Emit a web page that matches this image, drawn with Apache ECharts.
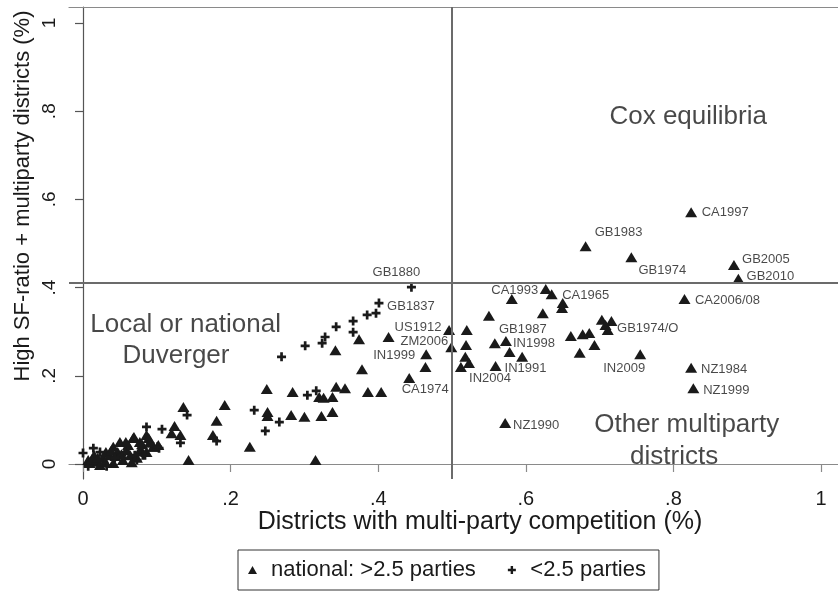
<!DOCTYPE html>
<html>
<head>
<meta charset="utf-8">
<script src="https://cdn.jsdelivr.net/npm/echarts@6/dist/echarts.min.js"></script>
<style>
html,body{margin:0;padding:0;background:#fff;}
#chart{width:838px;height:594px;}
</style>
</head>
<body>
<div id="chart"></div>
<script>
// ---------- data ----------
const seriesNames = ['national: >2.5 parties', '<2.5 parties'];

// national, >2.5 parties (triangles): [x, y]
const nationalPoints = [
  [0.824,0.571],[0.681,0.494],[0.743,0.469],[0.882,0.451],[0.888,0.420],[0.815,0.374],
  [0.703,0.327],[0.716,0.324],[0.708,0.315],[0.711,0.304],[0.677,0.294],[0.686,0.297],
  [0.661,0.290],[0.693,0.270],[0.673,0.252],[0.755,0.249],[0.824,0.218],[0.827,0.172],
  [0.572,0.093],
  [0.581,0.374],[0.627,0.397],[0.635,0.385],[0.650,0.365],[0.649,0.354],[0.550,0.336],
  [0.623,0.342],[0.496,0.304],[0.520,0.304],[0.499,0.265],[0.519,0.270],[0.518,0.243],
  [0.523,0.229],[0.512,0.220],[0.558,0.274],[0.573,0.279],[0.578,0.254],[0.595,0.243],
  [0.559,0.222],
  [0.465,0.249],[0.464,0.220],[0.442,0.195],[0.414,0.288],[0.374,0.283],[0.342,0.258],
  [0.378,0.215],[0.249,0.170],[0.284,0.163],[0.320,0.152],[0.326,0.150],[0.338,0.152],
  [0.343,0.175],[0.355,0.172],[0.386,0.163],[0.404,0.163],[0.250,0.118],[0.250,0.109],
  [0.282,0.111],[0.300,0.107],[0.323,0.109],[0.338,0.118],[0.226,0.039],[0.315,0.009],
  [0.136,0.129],[0.192,0.134],[0.181,0.098],[0.124,0.086],[0.120,0.070],[0.132,0.066],
  [0.176,0.066],[0.143,0.009],[0.086,0.066],[0.089,0.059],[0.069,0.061],[0.077,0.050],
  [0.096,0.039],
  [0.007,0.009],[0.019,0.005],[0.027,0.014],[0.036,0.020],[0.041,0.039],[0.050,0.050],
  [0.047,0.027],[0.059,0.032],[0.068,0.059],[0.095,0.039],[0.086,0.027],[0.073,0.014],
  [0.054,0.009],[0.041,0.002],[0.023,-0.002],[0.009,0.002],[0.031,0.027],[0.061,0.043],
  [0.078,0.034],[0.015,0.020],
  [0.012,0.011],[0.030,0.005],[0.044,0.018],[0.052,0.022],[0.064,0.020],[0.080,0.045],
  [0.058,0.050],[0.038,0.030],[0.066,0.004],[0.020,0.014],[0.102,0.043],[0.090,0.048]
];

// <2.5 parties (pluses): [x, y]
const lowPoints = [
  [0.445,0.401],[0.401,0.365],[0.397,0.342],[0.385,0.338],[0.366,0.324],[0.343,0.311],
  [0.366,0.299],[0.328,0.288],[0.324,0.274],[0.301,0.268],[0.269,0.243],[0.304,0.156],
  [0.316,0.166],[0.232,0.122],[0.266,0.095],[0.247,0.075],[0.141,0.111],[0.107,0.079],
  [0.086,0.084],[0.132,0.048],[0.181,0.052],[0.103,0.036],[0.081,0.020],[0.073,0.009],
  [0.000,0.025],[0.014,0.036],[0.070,0.020],[0.084,0.020],[0.032,-0.005],[0.101,0.039],
  [0.057,0.027],[0.043,0.014],[0.023,0.027],[0.007,-0.005]
];

// point labels: [x, y, text]
const pointLabels = [
  [0.824,0.571,'CA1997'],[0.681,0.494,'GB1983'],[0.743,0.469,'GB1974'],
  [0.882,0.451,'GB2005'],[0.888,0.420,'GB2010'],[0.815,0.374,'CA2006/08'],
  [0.711,0.304,'GB1974/O'],[0.755,0.249,'IN2009'],[0.824,0.218,'NZ1984'],
  [0.827,0.172,'NZ1999'],[0.572,0.093,'NZ1990'],[0.581,0.374,'CA1993'],
  [0.635,0.385,'CA1965'],[0.558,0.274,'GB1987'],[0.573,0.279,'IN1998'],
  [0.559,0.222,'IN1991'],[0.523,0.229,'IN2004'],[0.496,0.304,'US1912'],
  [0.499,0.265,'ZM2006'],[0.465,0.249,'IN1999'],[0.442,0.195,'CA1974'],
  [0.401,0.365,'GB1837'],[0.445,0.401,'GB1880']
];

// region annotations: [x, y, text]
const regionNotes = [
  [0.820,0.787,'Cox equilibria'],
  [0.139,0.315,'Local or national'],
  [0.126,0.246,'Duverger'],
  [0.818,0.089,'Other multiparty'],
  [0.801,0.016,'districts']
];

const refX = 0.5;
const refY = 0.41;

const xTickValues = [0, 0.2, 0.4, 0.6, 0.8, 1];
const xTickLabels = ['0', '.2', '.4', '.6', '.8', '1'];
const yTickValues = [0, 0.2, 0.4, 0.6, 0.8, 1];
const yTickLabels = ['0', '.2', '.4', '.6', '.8', '1'];

const xTitle = 'Districts with multi-party competition (%)';
const yTitle = 'High SF-ratio + multiparty districts (%)';

// ---------- styling ----------
const FONT = '"Liberation Sans", Arial, Helvetica, sans-serif';
const INK = '#1a1a1a';
const plusPath = 'path://M3.5,0h3v3.5h3.5v3h-3.5v3.5h-3v-3.5h-3.5v-3h3.5z';

const labelOffsets = {
  'CA1997':[34,0],'GB1983':[33,-14],'GB1974':[31,13],'GB2005':[32,-6],'GB2010':[32,-2],
  'CA2006/08':[43,1],'GB1974/O':[40,-2],'IN2009':[-16,14],'NZ1984':[33,2],'NZ1999':[33,2],
  'NZ1990':[31,2],'CA1993':[3,-9],'CA1965':[34,1],'GB1987':[28,-14],'IN1998':[28,2],
  'IN1991':[30,2],'IN2004':[21,15],'US1912':[-31,-3],'ZM2006':[-27,-6],'IN1999':[-32,1],
  'CA1974':[16,11],'GB1837':[32,3],'GB1880':[-15,-15]
};

function tickFmt(values, labels) {
  return function (v) {
    const i = values.findIndex(t => Math.abs(t - v) < 1e-9);
    return i >= 0 ? labels[i] : '';
  };
}

const chart = echarts.init(document.getElementById('chart'), null, {renderer: 'canvas'});

const X_MIN = -0.019, X_MAX = 1.0230;

const option = {
  animation: false,
  backgroundColor: '#fff',
  textStyle: {fontFamily: FONT},
  grid: {left: 69, right: -2, top: 7, bottom: 115, show: false},
  xAxis: [{
    type: 'value', min: X_MIN, max: X_MAX,
    axisLine: {show: true, lineStyle: {color: '#8a8a8a', width: 1.2}},
    axisTick: {show: true, length: 8, lineStyle: {color: '#8a8a8a', width: 1.2}, customValues: xTickValues},
    axisLabel: {show: true, margin: 10, fontSize: 20, color: INK, fontFamily: FONT,
      customValues: xTickValues, formatter: tickFmt(xTickValues, xTickLabels)},
    splitLine: {show: false}
  }, {
    type: 'value', position: 'top', min: X_MIN, max: X_MAX,
    axisLine: {show: true, lineStyle: {color: '#8a8a8a', width: 1.2}},
    axisTick: {show: false}, axisLabel: {show: false}, splitLine: {show: false}
  }],
  yAxis: {
    type: 'value', min: -0.034, max: 1.0363,
    axisLine: {show: true, lineStyle: {color: '#555', width: 1.2}},
    axisTick: {show: true, length: 8, lineStyle: {color: '#555', width: 1.2}, customValues: yTickValues},
    axisLabel: {show: true, margin: 10, fontSize: 19, color: INK, fontFamily: FONT, rotate: 90,
      customValues: yTickValues, formatter: tickFmt(yTickValues, yTickLabels)},
    splitLine: {show: false}
  },
  legend: {
    left: 238, top: 550, orient: 'horizontal',
    data: [
      {name: seriesNames[0], icon: 'triangle'},
      {name: seriesNames[1], icon: plusPath}
    ],
    itemWidth: 9, itemHeight: 8, itemGap: 32,
    padding: [8, 13, 8, 10],
    borderColor: '#333', borderWidth: 1,
    textStyle: {fontSize: 22, color: INK, fontFamily: FONT, padding: [0, 0, 0, 9], lineHeight: 24},
    selectedMode: false
  },
  graphic: [
    {type: 'text', x: 480, y: 522, style: {text: xTitle, fontSize: 25, fill: INK, fontFamily: FONT,
      textAlign: 'center', textVerticalAlign: 'middle'}},
    {type: 'text', x: 23, y: 196, rotation: Math.PI / 2, style: {text: yTitle, fontSize: 22, fill: INK,
      fontFamily: FONT, textAlign: 'center', textVerticalAlign: 'middle'}}
  ],
  series: [
    {
      name: seriesNames[0], type: 'scatter', symbol: 'triangle', symbolSize: [12, 10],
      itemStyle: {color: INK, opacity: 1}, data: nationalPoints, z: 3,
      emphasis: {disabled: true},
      markLine: {
        silent: true, symbol: 'none', animation: false,
        lineStyle: {color: '#6b6b6b', width: 2, type: 'solid'},
        label: {show: false},
        emphasis: {disabled: true},
        data: [{xAxis: refX}, {yAxis: refY}]
      }
    },
    {
      name: seriesNames[1], type: 'scatter', symbol: plusPath, symbolSize: 9,
      itemStyle: {color: INK, opacity: 1}, data: lowPoints, z: 3,
      emphasis: {disabled: true}
    },
    {
      name: 'labels', type: 'scatter', symbol: 'circle', symbolSize: 1,
      itemStyle: {color: 'transparent'}, z: 4, silent: true,
      data: pointLabels.map(d => ({value: [d[0], d[1]], name: d[2],
        label: {offset: labelOffsets[d[2]] || [0, 0]}})),
      label: {show: true, position: 'inside', formatter: p => p.name, fontSize: 13, color: INK,
        fontFamily: FONT, textBorderWidth: 0, textBorderColor: 'transparent'}
    },
    {
      name: 'notes', type: 'scatter', symbol: 'circle', symbolSize: 1,
      itemStyle: {color: 'transparent'}, z: 4, silent: true,
      data: regionNotes.map(d => ({value: [d[0], d[1]], name: d[2]})),
      label: {show: true, position: 'inside', formatter: p => p.name, fontSize: 26, color: INK,
        fontFamily: FONT, textBorderWidth: 0, textBorderColor: 'transparent'}
    }
  ]
};

chart.setOption(option);
</script>
</body>
</html>
